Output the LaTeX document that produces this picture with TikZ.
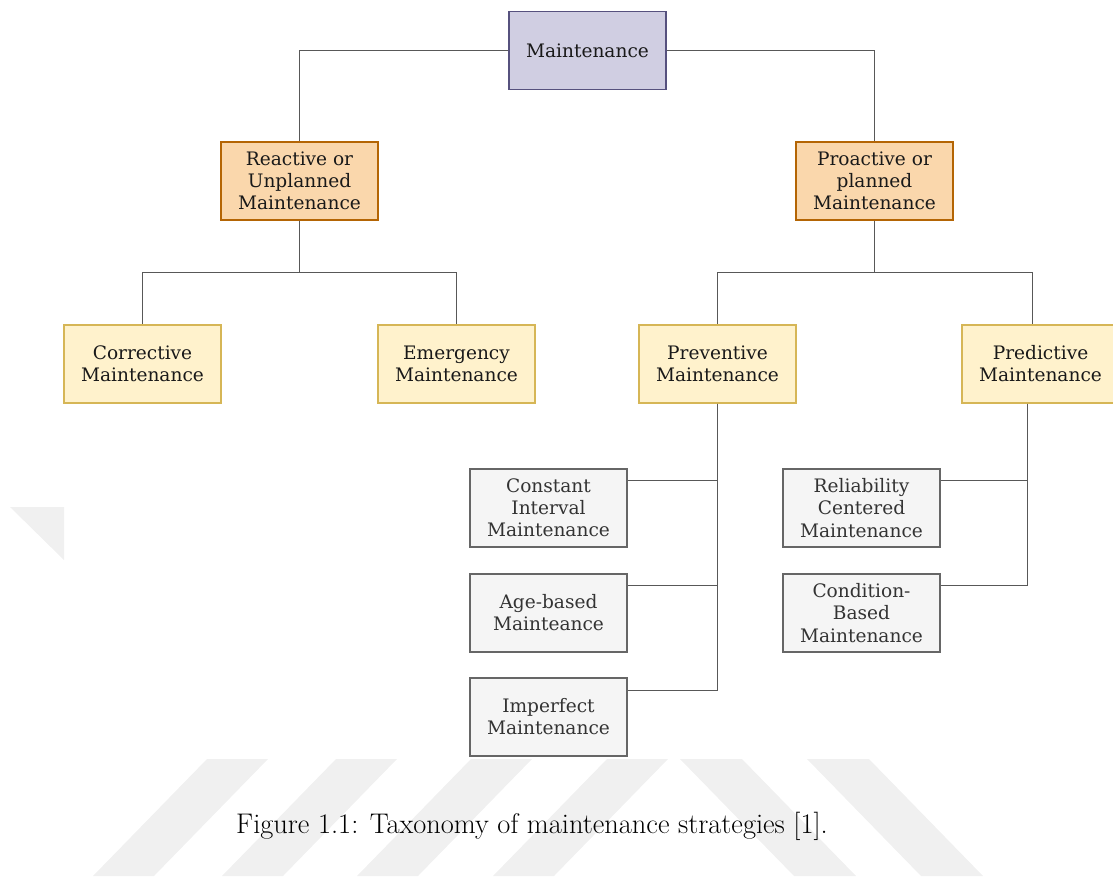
\documentclass[tikz,border=0pt]{standalone}
\usepackage{fontspec}
\newfontfamily\boxfont{DejaVu Serif}
\definecolor{mainfill}{HTML}{D0CEE2}
\definecolor{maindraw}{HTML}{56517E}
\definecolor{orfill}{HTML}{FAD7AC}
\definecolor{ordraw}{HTML}{B46504}
\definecolor{yefill}{HTML}{FFF2CC}
\definecolor{yedraw}{HTML}{D6B656}
\definecolor{grfill}{HTML}{F5F5F5}
\definecolor{grdraw}{HTML}{666666}
\definecolor{grtext}{HTML}{333333}
\definecolor{linkcol}{HTML}{585858}
\definecolor{wmarkcol}{HTML}{F0F0F0}
\tikzset{
  box/.style={draw, rectangle, line width=0.9pt, minimum width=3.925cm, minimum height=1.95cm,
    align=center, inner sep=0pt, font=\boxfont\fontsize{13.2}{15.7}\selectfont, text=black!90},
  mainbox/.style={box, fill=mainfill, draw=maindraw},
  planbox/.style={box, fill=orfill, draw=ordraw},
  typebox/.style={box, fill=yefill, draw=yedraw},
  policybox/.style={box, fill=grfill, draw=grdraw, text=grtext},
  link/.style={draw=linkcol, line width=1.05pt},
  wmark/.style={fill=wmarkcol}
}
\begin{document}
\begin{tikzpicture}[x=0.025cm, y=-0.025cm]
  \useasboundingbox (0,0) rectangle (1113,876);
  \clip (0,0) rectangle (1113,876);
  \foreach \x in {207,336,471,607}
    \fill[wmark] (\x,759) -- ++(61,0) -- ++(-114,117) -- ++(-61,0) -- cycle;
  \foreach \x in {680,807}
    \fill[wmark] (\x,759) -- ++(62,0) -- ++(114,117) -- ++(-62,0) -- cycle;
  \fill[wmark] (10,507) -- (64,507) -- (64,560) -- cycle;

  \node[mainbox] (main) at (587.5,50.5) {Maintenance};
  \node[planbox] (reactive) at (299.5,181) {Reactive or\\Unplanned\\Maintenance};
  \node[planbox] (proactive) at (874.5,181) {Proactive or\\planned\\Maintenance};
  \node[typebox] (corrective) at (142.5,364) {Corrective\\Maintenance};
  \node[typebox] (emergency) at (456.5,364) {Emergency\\Maintenance};
  \node[typebox] (preventive) at (717.5,364) {Preventive\\Maintenance};
  \node[typebox] (predictive) at (1040.5,364) {Predictive\\Maintenance};
  \node[policybox] (constant) at (548.5,508) {Constant\\Interval\\Maintenance};
  \node[policybox] (agebased) at (548.5,613) {Age-based\\Mainteance};
  \node[policybox] (imperfect) at (548.5,717) {Imperfect\\Maintenance};
  \node[policybox] (reliability) at (861.5,508) {Reliability\\Centered\\Maintenance};
  \node[policybox] (condition) at (861.5,613) {Condition-\\Based\\Maintenance};

  \draw[link] (main.west) -| (reactive.north);
  \draw[link] (main.east) -| (proactive.north);
  \draw[link] (reactive.south) -- ++(0,52) -| (corrective.north);
  \draw[link] (reactive.south) -- ++(0,52) -| (emergency.north);
  \draw[link] (proactive.south) -- ++(0,52) -| (preventive.north);
  \draw[link] (proactive.south) -- ++(0,52) -| ([xshift=-0.2cm]predictive.north);
  \draw[link] (preventive.south) |- ([yshift=-0.3cm]constant.north east);
  \draw[link] (preventive.south) |- ([yshift=-0.3cm]agebased.north east);
  \draw[link] (preventive.south) |- ([yshift=-0.325cm]imperfect.north east);
  \draw[link] ([xshift=-0.325cm]predictive.south) |- ([yshift=-0.3cm]reliability.north east);
  \draw[link] ([xshift=-0.325cm]predictive.south) |- ([yshift=-0.3cm]condition.north east);

  \node[anchor=base, font=\fontsize{20.2}{24}\selectfont] (caption) at (532,833)
    {Figure 1.1: Taxonomy of maintenance strategies [1].};
\end{tikzpicture}
\end{document}
